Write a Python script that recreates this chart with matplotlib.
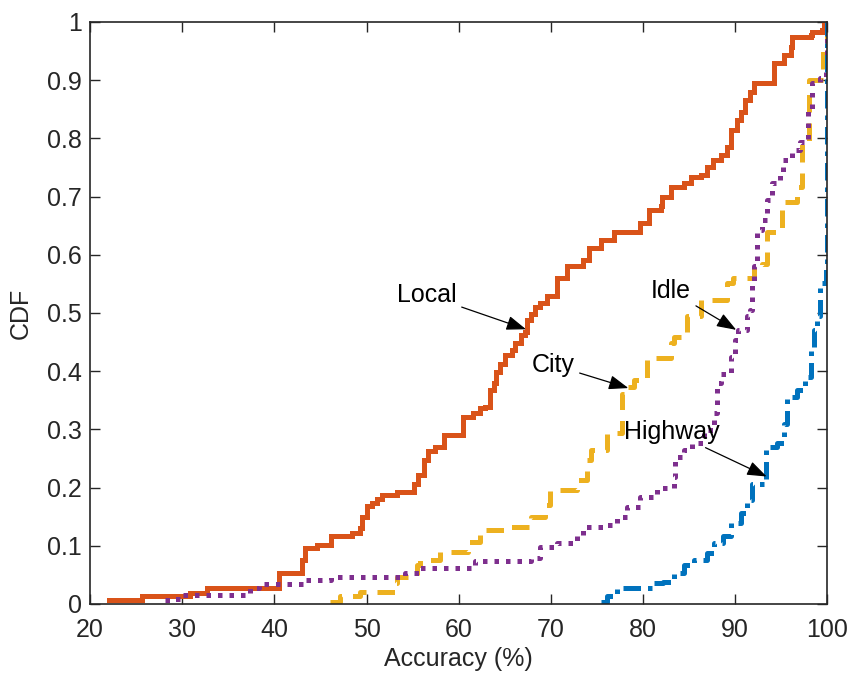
import matplotlib

matplotlib.use("Agg")
import matplotlib.pyplot as plt

plt.rcParams["font.family"] = ["Liberation Sans", "DejaVu Sans"]

ORANGE, YELLOW, PURPLE, BLUE = "#D95319", "#EDB120", "#7E2F8E", "#0072BD"
DARK = "#262626"

# step corners (accuracy %, CDF)
local_x = [22.1, 25.6, 30.9, 32.7, 40.5, 43.0, 43.3, 44.6, 46.1, 48.4, 49.3, 49.5,
           50.0, 50.6, 51.1, 51.7, 53.3, 55.1, 55.6, 56.2, 56.7, 57.4, 58.4, 60.5,
           61.6, 62.3, 62.9, 63.4, 63.8, 64.0, 64.5, 65.0, 65.8, 66.1, 66.7, 67.2,
           67.4, 67.8, 68.3, 68.8, 69.6, 70.7, 71.7, 73.5, 74.1, 75.4, 76.8, 79.7,
           80.6, 81.9, 82.1, 83.0, 84.4, 85.2, 86.3, 86.9, 87.6, 88.4, 89.1, 89.5,
           90.2, 90.6, 91.0, 91.6, 92.0, 94.2, 95.3, 96.0, 96.2, 98.2, 98.3, 99.4,
           99.6, 100.0]
local_y = [0.007, 0.013, 0.019, 0.027, 0.054, 0.076, 0.096, 0.101, 0.116, 0.122, 0.130, 0.150,
           0.168, 0.173, 0.180, 0.187, 0.193, 0.207, 0.222, 0.247, 0.262, 0.270, 0.290, 0.322,
           0.328, 0.336, 0.339, 0.368, 0.379, 0.399, 0.413, 0.428, 0.436, 0.448, 0.462, 0.468,
           0.488, 0.499, 0.511, 0.517, 0.530, 0.560, 0.580, 0.591, 0.612, 0.625, 0.640, 0.654,
           0.677, 0.683, 0.700, 0.717, 0.723, 0.734, 0.737, 0.751, 0.763, 0.771, 0.786, 0.814,
           0.831, 0.845, 0.866, 0.880, 0.895, 0.929, 0.943, 0.957, 0.974, 0.977, 0.983, 0.986,
           0.997, 1.000]

city_x = [46.0, 47.1, 49.3, 53.1, 53.3, 55.5, 55.8, 58.0, 61.0, 62.3, 65.6, 67.8, 69.4, 69.9,
          72.8, 73.9, 74.3, 76.1, 77.7, 78.3, 79.0, 80.4, 83.0, 83.3, 84.8, 86.3, 89.1,
          89.8, 92.0, 92.9, 93.4, 95.1, 96.7, 97.2, 98.0, 99.5, 100.0]
city_y = [0.004, 0.014, 0.021, 0.036, 0.047, 0.067, 0.076, 0.090, 0.107, 0.127, 0.133, 0.150, 0.170, 0.196,
          0.213, 0.247, 0.265, 0.293, 0.360, 0.373, 0.385, 0.422, 0.448, 0.459, 0.494, 0.522, 0.551,
          0.560, 0.580, 0.585, 0.640, 0.690, 0.717, 0.790, 0.900, 0.950, 1.000]

idle_x = [28.1, 29.0, 30.1, 37.4, 38.3, 43.1, 46.1, 54.2, 55.8, 61.8, 67.8, 68.8, 70.7,
          72.8, 73.5, 76.1, 77.2, 78.3, 79.7, 81.5, 83.3, 83.5, 84.4, 85.3, 86.6, 87.7,
          88.0, 88.4, 89.5, 90.0, 90.3, 91.3, 91.6, 91.8, 92.0, 92.4, 92.9, 93.4, 94.0,
          94.9, 95.2, 96.1, 97.0, 97.9, 98.3, 99.2, 99.8, 100.0]
idle_y = [0.007, 0.009, 0.015, 0.027, 0.034, 0.041, 0.047, 0.054, 0.061, 0.073, 0.079, 0.098, 0.104,
          0.116, 0.133, 0.136, 0.150, 0.167, 0.184, 0.199, 0.219, 0.253, 0.265, 0.276, 0.299, 0.328,
          0.380, 0.396, 0.425, 0.454, 0.471, 0.494, 0.505, 0.551, 0.580, 0.643, 0.660, 0.694, 0.723,
          0.740, 0.763, 0.780, 0.794, 0.849, 0.895, 0.903, 0.920, 1.000]

highway_x = [75.4, 76.1, 77.2, 81.1, 82.2, 83.3, 84.4, 85.5, 86.9, 87.7, 88.7, 89.5, 90.6,
             91.3, 91.8, 93.3, 94.5, 95.3, 95.6, 96.7, 97.6, 98.2, 98.5, 98.9, 99.2, 99.8,
             100.0]
highway_y = [0.003, 0.013, 0.027, 0.036, 0.038, 0.053, 0.067, 0.076, 0.087, 0.104, 0.116, 0.139, 0.156,
             0.179, 0.207, 0.270, 0.276, 0.310, 0.356, 0.368, 0.390, 0.442, 0.471, 0.494, 0.551, 0.585,
             1.000]

x_ticks = [20, 30, 40, 50, 60, 70, 80, 90, 100]
y_ticks = [0, 0.1, 0.2, 0.3, 0.4, 0.5, 0.6, 0.7, 0.8, 0.9, 1]
y_labels = ["0", "0.1", "0.2", "0.3", "0.4", "0.5", "0.6", "0.7", "0.8", "0.9", "1"]

# label text position, arrow tip
notes = [
    ("Local", (56.5, 0.531), (67.3, 0.472)),
    ("City", (70.2, 0.411), (78.4, 0.371)),
    ("Idle", (83.0, 0.538), (90.1, 0.471)),
    ("Highway", (83.1, 0.296), (93.4, 0.219)),
]

fig = plt.figure(figsize=(8.53, 6.79), dpi=100)
ax = fig.add_axes([0.1055, 0.1105, 0.8646, 0.8571])

ax.step(local_x, local_y, where="post", color=ORANGE, lw=3.6, solid_joinstyle="miter")
ax.step(city_x, city_y, where="post", color=YELLOW, lw=3.6, dashes=(3.5, 2.2))
ax.step(idle_x, idle_y, where="post", color=PURPLE, lw=3.6, dashes=(0.9, 1.4))
ax.step(highway_x, highway_y, where="post", color=BLUE, lw=3.6, dashes=(3.5, 1.4, 0.9, 1.4))

for label, txt, tip in notes:
    ax.annotate(label, xy=tip, xytext=txt, ha="center", va="center", fontsize=18, color="black",
                arrowprops=dict(arrowstyle="-|>,head_length=0.6,head_width=0.22",
                                mutation_scale=20, color="black", lw=0.9, shrinkA=2, shrinkB=0))

ax.set_xlim(20, 100)
ax.set_ylim(0, 1)
ax.set_xticks(x_ticks)
ax.set_yticks(y_ticks)
ax.set_yticklabels(y_labels)
ax.tick_params(direction="in", length=7, width=1, colors=DARK, labelsize=18,
               top=True, right=True)
ax.tick_params(axis="x", pad=10)
ax.tick_params(axis="y", pad=6)
for s in ax.spines.values():
    s.set_color(DARK)
    s.set_linewidth(1.2)
ax.set_xlabel("Accuracy (%)", fontsize=18, color=DARK, labelpad=4)
ax.set_ylabel("CDF", fontsize=18, color=DARK, labelpad=10)

fig.savefig("out.png", dpi=100)
